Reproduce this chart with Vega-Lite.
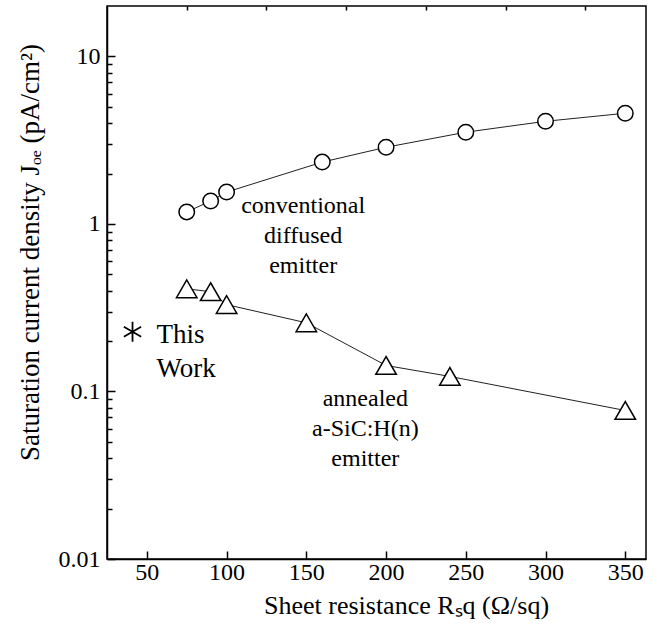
{
  "$schema": "https://vega.github.io/schema/vega-lite/v6.json",
  "width": 539,
  "height": 553,
  "autosize": {"type": "none"},
  "padding": {"left": 107, "top": 6, "right": 11, "bottom": 78},
  "background": "white",
  "config": {
    "view": {"stroke": "black", "strokeWidth": 1.5},
    "font": "Liberation Serif",
    "text": {"font": "Liberation Serif"},
    "axis": {
      "domainColor": "black", "tickColor": "black", "labelColor": "black", "titleColor": "black",
      "labelFont": "Liberation Serif", "titleFont": "Liberation Serif",
      "titleFontWeight": "normal", "grid": false
    }
  },
  "datasets": {
    "meas": [
      {"series": "conventional diffused emitter", "R": 75, "J": 1.18},
      {"series": "conventional diffused emitter", "R": 90, "J": 1.37},
      {"series": "conventional diffused emitter", "R": 100, "J": 1.55},
      {"series": "conventional diffused emitter", "R": 160, "J": 2.34},
      {"series": "conventional diffused emitter", "R": 200, "J": 2.87},
      {"series": "conventional diffused emitter", "R": 250, "J": 3.53},
      {"series": "conventional diffused emitter", "R": 300, "J": 4.10},
      {"series": "conventional diffused emitter", "R": 350, "J": 4.58},
      {"series": "annealed a-SiC:H(n) emitter", "R": 75, "J": 0.41},
      {"series": "annealed a-SiC:H(n) emitter", "R": 90, "J": 0.394},
      {"series": "annealed a-SiC:H(n) emitter", "R": 100, "J": 0.33},
      {"series": "annealed a-SiC:H(n) emitter", "R": 150, "J": 0.257},
      {"series": "annealed a-SiC:H(n) emitter", "R": 200, "J": 0.143},
      {"series": "annealed a-SiC:H(n) emitter", "R": 240, "J": 0.123},
      {"series": "annealed a-SiC:H(n) emitter", "R": 350, "J": 0.077}
    ],
    "thiswork": [{"R": 41, "J": 0.227}],
    "labels": [
      {"R": 148, "J": 1.28, "text": "conventional\ndiffused\nemitter"},
      {"R": 187, "J": 0.0896, "text": "annealed\na-SiC:H(n)\nemitter"}
    ],
    "labels2": [
      {"R": 56, "J": 0.218, "text": "This\nWork"}
    ]
  },
  "resolve": {"axis": {"x": "independent", "y": "independent"}},
  "layer": [
    {
      "data": {"name": "meas"},
      "mark": {"type": "line", "color": "#222", "strokeWidth": 1},
      "encoding": {
        "x": {"field": "R", "type": "quantitative",
          "scale": {"domain": [25, 363], "nice": false, "zero": false},
          "axis": {"values": [50, 100, 150, 200, 250, 300, 350], "tickSize": -8, "tickWidth": 1.5, "domainWidth": 1.5,
            "labelFont": "Liberation Serif", "titleFont": "Liberation Serif",
            "labelFontSize": 24, "labelPadding": 9, "title": "Sheet resistance Rₛq (Ω/sq)", "titleFontSize": 26, "titlePadding": 8, "titleX": 299}},
        "y": {"field": "J", "type": "quantitative",
          "scale": {"type": "log", "domain": [0.01, 20], "nice": false},
          "axis": {"values": [0.01, 0.1, 1, 10], "format": "~g", "tickSize": -8, "tickWidth": 1.5, "domainWidth": 1.5,
            "labelFont": "Liberation Serif", "titleFont": "Liberation Serif",
            "labelFontSize": 24, "labelPadding": 15, "title": "Saturation current density Jₒₑ (pA/cm²)", "titleFontSize": 27, "titlePadding": 14, "titleY": 246}},
        "detail": {"field": "series"}
      }
    },
    {
      "data": {"name": "meas"},
      "transform": [{"filter": "datum.series === 'conventional diffused emitter'"}],
      "mark": {"type": "point", "shape": "circle", "filled": true, "fill": "white", "stroke": "black", "strokeWidth": 1.5, "size": 240, "opacity": 1},
      "encoding": {
        "x": {"field": "R", "type": "quantitative", "axis": null},
        "y": {"field": "J", "type": "quantitative", "axis": null}
      }
    },
    {
      "data": {"name": "meas"},
      "transform": [{"filter": "datum.series === 'annealed a-SiC:H(n) emitter'"}],
      "mark": {"type": "point", "shape": "triangle-up", "filled": true, "fill": "white", "stroke": "black", "strokeWidth": 1.5, "size": 420, "opacity": 1},
      "encoding": {
        "x": {"field": "R", "type": "quantitative", "axis": null},
        "y": {"field": "J", "type": "quantitative", "axis": null}
      }
    },
    {
      "data": {"name": "thiswork"},
      "mark": {"type": "point", "shape": "M0,-1L0,1M-0.866,-0.5L0.866,0.5M-0.866,0.5L0.866,-0.5", "filled": false, "stroke": "black", "strokeWidth": 1.8, "size": 400, "opacity": 1},
      "encoding": {
        "x": {"field": "R", "type": "quantitative",
          "axis": {"values": [75, 125, 175, 225, 275, 325], "tickSize": -4, "tickWidth": 1.5, "labels": false, "domain": false, "title": null}},
        "y": {"field": "J", "type": "quantitative",
          "axis": {"orient": "left", "values": [0.02, 0.03, 0.04, 0.05, 0.06, 0.07, 0.08, 0.09, 0.2, 0.3, 0.4, 0.5, 0.6, 0.7, 0.8, 0.9, 2, 3, 4, 5, 6, 7, 8, 9], "tickSize": -5, "tickWidth": 1.5, "labels": false, "domain": false, "title": null}}
      }
    },
    {
      "data": {"name": "labels"},
      "mark": {"type": "text", "font": "Liberation Serif", "fontSize": 24, "lineBreak": "\n", "lineHeight": 30, "align": "center", "baseline": "middle", "color": "black"},
      "encoding": {
        "x": {"field": "R", "type": "quantitative", "axis": null},
        "y": {"field": "J", "type": "quantitative", "axis": null},
        "text": {"field": "text"}
      }
    },
    {
      "data": {"name": "labels2"},
      "mark": {"type": "text", "font": "Liberation Serif", "fontSize": 27, "lineBreak": "\n", "lineHeight": 34, "align": "left", "baseline": "middle", "color": "black"},
      "encoding": {
        "x": {"field": "R", "type": "quantitative", "axis": null},
        "y": {"field": "J", "type": "quantitative", "axis": null},
        "text": {"field": "text"}
      }
    }
  ]
}
